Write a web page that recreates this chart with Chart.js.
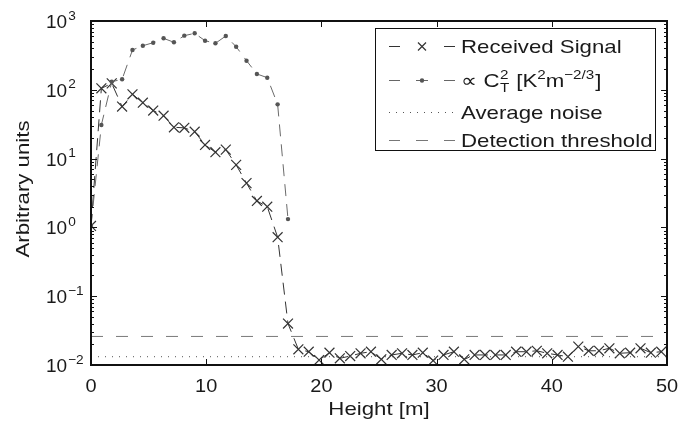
<!DOCTYPE html>
<html>
<head>
<meta charset="utf-8">
<script src="https://cdn.jsdelivr.net/npm/chart.js@4/dist/chart.umd.min.js"></script>
<style>
  html, body { margin: 0; padding: 0; background: #fff; }
  #wrap { width: 691px; height: 423px; }
</style>
</head>
<body>
<div id="wrap"><canvas id="chart"></canvas></div>
<script>
// range gates [m]
const heights = [0, 0.9, 1.8, 2.7, 3.6, 4.5, 5.4, 6.3, 7.2, 8.1, 9, 9.9, 10.8, 11.7, 12.6, 13.5, 14.4, 15.3, 16.2, 17.1,
  18, 18.9, 19.8, 20.7, 21.6, 22.5, 23.4, 24.3, 25.2, 26.1, 27, 27.9, 28.8, 29.7, 30.6, 31.5, 32.4, 33.3, 34.2, 35.1,
  36, 36.9, 37.8, 38.7, 39.6, 40.5, 41.4, 42.3, 43.2, 44.1, 45, 45.9, 46.8, 47.7, 48.6, 49.5];
const receivedSignal = [1.05, 105, 124, 57, 86, 65, 50, 42, 28.5, 28, 24.6, 15.8, 12.4, 13.5, 8.1, 4.4, 2.42, 2.0, 0.72, 0.040,
  0.0169, 0.0156, 0.0118, 0.0151, 0.0125, 0.0135, 0.0148, 0.0156, 0.0121, 0.0140, 0.0148, 0.0140, 0.0151, 0.0116, 0.0140, 0.0156,
  0.0121, 0.0140, 0.0140, 0.0140, 0.0140, 0.0156, 0.0156, 0.0161, 0.0148, 0.0140, 0.0132, 0.0185, 0.0161, 0.0161, 0.0175,
  0.0148, 0.0151, 0.0175, 0.0151, 0.0156];
const ct2 = [1.05, 30.8, 131, 142, 379, 437, 484, 560, 490, 612, 662, 517, 474, 605, 423, 265, 170, 150, 61.5, 1.32];
const noiseLevel = 0.0132;
const thresholdLevel = 0.026;
const xTicks = [0, 10, 20, 30, 40, 50];
const yDecades = [-2, -1, 0, 1, 2, 3];
const legendLabels = ['Received Signal', '\u221D C', 'Average noise', 'Detection threshold'];

const FONT = '"Liberation Sans", Arial, Helvetica, sans-serif';
const WIDE = 1.17; // the figure's lettering runs a bit wider than Arial
const pts = (xs, ys) => ys.map((v, i) => ({ x: xs[i], y: v }));
const font = px => px + 'px ' + FONT;

// draw text stretched along its reading direction, return advance width
function txt(ctx, s, x, y, size, align, sx) {
  sx = sx || WIDE;
  ctx.save();
  ctx.font = font(size);
  ctx.textAlign = align || 'left';
  ctx.textBaseline = 'alphabetic';
  ctx.translate(x, y);
  ctx.scale(sx, 1);
  ctx.fillText(s, 0, 0);
  const w = ctx.measureText(s).width * sx;
  ctx.restore();
  return w;
}

const frame = {
  id: 'frame',
  afterDatasetsDraw(chart) {
    const { ctx, chartArea: a, scales: { x, y } } = chart;
    ctx.save();
    ctx.strokeStyle = '#111';
    ctx.lineWidth = 1;
    ctx.beginPath();
    xTicks.slice(1, -1).forEach(t => {
      const px = Math.round(x.getPixelForValue(t)) + 0.5;
      ctx.moveTo(px, a.bottom); ctx.lineTo(px, a.bottom - 6);
      ctx.moveTo(px, a.top); ctx.lineTo(px, a.top + 6);
    });
    yDecades.forEach(d => {
      const py = Math.round(y.getPixelForValue(Math.pow(10, d))) + 0.5;
      ctx.moveTo(a.left, py); ctx.lineTo(a.left + 6, py);
      ctx.moveTo(a.right, py); ctx.lineTo(a.right - 6, py);
      if (d === 3) return;
      for (let m = 2; m <= 9; m++) {
        const pm = Math.round(y.getPixelForValue(m * Math.pow(10, d))) + 0.5;
        ctx.moveTo(a.left, pm); ctx.lineTo(a.left + 3, pm);
        ctx.moveTo(a.right, pm); ctx.lineTo(a.right - 3, pm);
      }
    });
    ctx.stroke();
    ctx.lineWidth = 2;
    ctx.strokeRect(a.left, a.top, a.width, a.height);
    ctx.restore();
  },
  afterDraw(chart) {
    const { ctx, chartArea: a, scales: { x, y } } = chart;
    ctx.save();
    ctx.fillStyle = '#1a1a1a';
    // y tick labels 10^k
    yDecades.forEach(d => {
      const py = y.getPixelForValue(Math.pow(10, d));
      const w = txt(ctx, '10', 46, py + 7, 19, 'left', 1.0);
      txt(ctx, String(d).replace('-', '\u2212'), 46 + w + 1, py - 1.5, 13, 'left', 1.05);
    });
    // x tick labels
    xTicks.forEach(t => txt(ctx, String(t), x.getPixelForValue(t), 392, 19, 'center', 1.05));
    // axis titles
    txt(ctx, 'Height [m]', (a.left + a.right) / 2, 415, 19, 'center');
    ctx.save();
    ctx.translate(29, (a.top + a.bottom) / 2 - 4);
    ctx.rotate(-Math.PI / 2);
    txt(ctx, 'Arbitrary units', 0, 0, 19, 'center');
    ctx.restore();

    // legend
    const L = 375.5, T = 28.5, R = 655.5, B = 150.5;
    ctx.fillStyle = '#fff';
    ctx.fillRect(L, T, R - L, B - T);
    ctx.strokeStyle = '#111';
    ctx.lineWidth = 1;
    ctx.strokeRect(L, T, R - L, B - T);
    const rows = [46, 80, 112, 140];
    const sx0 = 389, sx1 = 455, mx = 422, tx = 461;
    const seg = (yy, x0, x1, col, dash) => {
      ctx.save(); ctx.strokeStyle = col; ctx.setLineDash(dash || []);
      ctx.beginPath(); ctx.moveTo(x0, yy + 0.5); ctx.lineTo(x1, yy + 0.5); ctx.stroke(); ctx.restore();
    };
    // row 1: received signal
    seg(rows[0], sx0, sx0 + 11, '#333'); seg(rows[0], sx1 - 11, sx1, '#333');
    ctx.save(); ctx.strokeStyle = '#333'; ctx.lineWidth = 1.2; ctx.beginPath();
    ctx.moveTo(mx - 4, rows[0] - 3.5); ctx.lineTo(mx + 4, rows[0] + 4.5);
    ctx.moveTo(mx - 4, rows[0] + 4.5); ctx.lineTo(mx + 4, rows[0] - 3.5); ctx.stroke(); ctx.restore();
    // row 2: ct2
    seg(rows[1], sx0, sx0 + 11, '#666'); seg(rows[1], sx1 - 11, sx1, '#666');
    seg(rows[1], mx - 6, mx + 6, '#666');
    ctx.fillStyle = '#555'; ctx.beginPath(); ctx.arc(mx, rows[1] + 0.5, 2.2, 0, Math.PI * 2); ctx.fill();
    // row 3: noise
    seg(rows[2], sx0, sx1, '#555', [1, 6]);
    // row 4: threshold
    seg(rows[3], sx0, sx0 + 11, '#777'); seg(rows[3], mx - 6, mx + 6, '#777'); seg(rows[3], sx1 - 11, sx1, '#777');

    ctx.fillStyle = '#1a1a1a';
    txt(ctx, legendLabels[0], tx, rows[0] + 7, 19);
    txt(ctx, legendLabels[2], tx, rows[2] + 7, 19);
    txt(ctx, legendLabels[3], tx, rows[3] + 7, 19);
    // ∝ C_T^2 [K^2 m^-2/3]
    let cx = tx;
    const by = rows[1] + 7;
    cx += txt(ctx, legendLabels[1], cx, by, 19);
    txt(ctx, 'T', cx + 0.5, by + 5, 13);
    cx += txt(ctx, '2', cx + 0.5, by - 8, 13) + 2;
    cx += txt(ctx, ' [K', cx, by, 19);
    cx += txt(ctx, '2', cx, by - 8, 13);
    cx += txt(ctx, 'm', cx, by, 19);
    cx += txt(ctx, '\u22122/3', cx, by - 8, 13);
    txt(ctx, ']', cx + 1, by, 19);
    ctx.restore();
  }
};

new Chart(document.getElementById('chart'), {
  type: 'line',
  data: {
    datasets: [
      { label: 'Detection threshold', data: [{ x: 0, y: thresholdLevel }, { x: 50, y: thresholdLevel }],
        borderColor: '#7a7a7a', borderWidth: 1, borderDash: [12, 13], pointRadius: 0 },
      { label: 'Average noise', data: [{ x: 0, y: noiseLevel }, { x: 50, y: noiseLevel }],
        borderColor: '#555', borderWidth: 1, borderDash: [1, 6], pointRadius: 0 },
      { label: 'CT2', data: pts(heights, ct2),
        borderColor: '#6a6a6a', borderWidth: 1, borderDash: [12, 8],
        pointStyle: 'circle', pointRadius: 2.2, pointBackgroundColor: '#555', pointBorderColor: '#555', pointBorderWidth: 0 },
      { label: 'Received Signal', data: pts(heights, receivedSignal),
        borderColor: '#333', borderWidth: 1, borderDash: [12, 7],
        pointStyle: 'crossRot', pointRadius: 7, pointBorderColor: '#333', pointBorderWidth: 1.2 }
    ]
  },
  options: {
    responsive: true,
    maintainAspectRatio: false,
    animation: false,
    events: [],
    layout: { padding: { left: 91, right: 24, top: 21, bottom: 58 } },
    plugins: { legend: { display: false }, tooltip: { enabled: false } },
    scales: {
      x: { type: 'linear', min: 0, max: 50, display: false },
      y: { type: 'logarithmic', min: 0.01, max: 1000, display: false }
    }
  },
  plugins: [frame]
});
</script>
</body>
</html>
